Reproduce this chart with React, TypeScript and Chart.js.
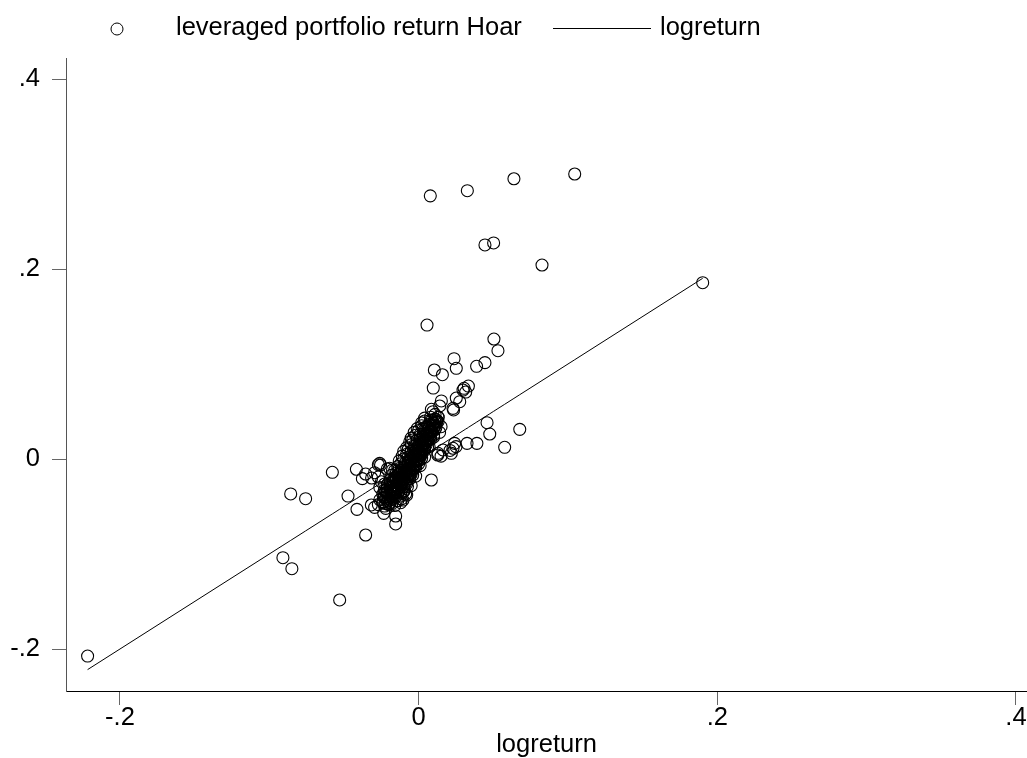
import React, { useEffect, useRef } from "react";
import { Chart, registerables } from "chart.js";

Chart.register(...registerables);

const scatterLabel = "leveraged portfolio return Hoar";
const lineLabel = "logreturn";
const axisTitleX = "logreturn";

const xTicks = [-0.2, 0, 0.2, 0.4];
const yTicks = [-0.2, 0, 0.2, 0.4];

// logreturn (x) values
const logreturn = [
  // upper outliers
  0.0078, 0.0326, 0.0638, 0.1045, 0.0444, 0.0502, 0.0826, 0.1902,
  // upper arm
  0.0056, 0.0504, 0.0531, 0.0237, 0.0252, 0.0444, 0.0388, 0.0105, 0.0159, 0.0098,
  0.0333, 0.0297, 0.0315, 0.0304, 0.0252, 0.0275, 0.0152, 0.0141, 0.0085, 0.023,
  0.0234, 0.0096, 0.013, 0.0096, 0.011, 0.008, 0.012, 0.015, 0.014,
  // right periphery
  0.0128, 0.013, 0.0163, 0.0219, 0.023, 0.0241, 0.0324, 0.039, 0.0576, 0.0476,
  0.0458, 0.0677, 0.0085, 0.015, 0.021, 0.025,
  // left periphery
  -0.0578, -0.0857, -0.0757, -0.0473, -0.0417, -0.0377, -0.0355, -0.0295, -0.0261, -0.0194,
  -0.0413, -0.0355, -0.0317, -0.0295, -0.0234, -0.0228, -0.019, -0.0154, -0.0154, -0.0234,
  -0.0221, -0.0228, -0.0105, -0.0087, -0.0149, -0.0172, -0.0909, -0.0849, -0.0529, -0.2217,
  -0.027, -0.0255, -0.021, -0.0175, -0.0315, -0.027, -0.026, -0.025,
  // dense core (a)
  -0.024, -0.023, -0.022, -0.022, -0.021, -0.021, -0.02, -0.02, -0.019, -0.019,
  -0.019, -0.018, -0.018, -0.018, -0.017, -0.017, -0.017, -0.016, -0.016, -0.016,
  -0.015, -0.015, -0.015, -0.014, -0.014, -0.014, -0.013, -0.013, -0.013, -0.012,
  -0.012, -0.012, -0.011, -0.011, -0.011, -0.01, -0.01, -0.01, -0.009, -0.009,
  -0.009, -0.008, -0.008, -0.008, -0.007, -0.007, -0.007, -0.006, -0.006, -0.006,
  -0.005, -0.005, -0.005, -0.004, -0.004, -0.004, -0.003, -0.003, -0.003, -0.002,
  -0.002, -0.002, -0.001, -0.001, -0.001, 0.0, 0.0, 0.0, 0.001, 0.001,
  0.001, 0.002, 0.002, 0.002, 0.003, 0.003, 0.003, 0.004, 0.004, 0.004,
  0.005, 0.005, 0.005, 0.006, 0.006, 0.006, 0.007, 0.007, 0.007, 0.008,
  0.008, 0.008, 0.009, 0.009, 0.01, 0.01, 0.011, 0.011, 0.012, 0.013,
  // dense core (b)
  -0.024, -0.019, -0.015, -0.022, -0.017, -0.012, -0.021, -0.016, -0.011,
  -0.019, -0.014, -0.01, -0.018, -0.013, -0.008, -0.016, -0.011, -0.007,
  -0.015, -0.01, -0.005, -0.013, -0.008, -0.003, -0.012, -0.007, -0.002,
  -0.01, -0.005, 0.0, -0.008, -0.003, 0.001, -0.007, -0.002, 0.003,
  -0.005, 0.0, 0.004, -0.004, 0.001, 0.005, -0.002, 0.003, 0.007,
  0.0, 0.004, 0.008, 0.002, 0.006, 0.01, 0.004, 0.008, 0.011,
  // dense core (c)
  -0.027, -0.022, -0.016, -0.012, -0.026, -0.02, -0.014,
  -0.024, -0.018, -0.012, -0.008, -0.023, -0.017, -0.01,
  -0.021, -0.015, -0.009, -0.005, -0.019, -0.013, -0.007,
  -0.018, -0.012, -0.006, -0.002, -0.016, -0.01, -0.004,
  -0.014, -0.009, -0.003, 0.001, -0.013, -0.007, -0.001,
  -0.011, -0.005, 0.001, 0.004, -0.01, -0.004, 0.002,
  -0.008, -0.002, 0.004, 0.007, -0.006, 0.0, 0.006,
  -0.005, 0.001, 0.007, 0.01, -0.003, 0.003, 0.009,
  -0.001, 0.005, 0.011, 0.002, 0.007, 0.012, 0.004, 0.009, 0.013,
  // dense core (d)
  -0.0205, -0.0155, -0.0115, -0.0185, -0.0135, -0.0095, -0.0165, -0.0115, -0.0075,
  -0.015, -0.01, -0.006, -0.013, -0.008, -0.004, -0.011, -0.006, -0.002,
  -0.009, -0.004, 0.0, -0.007, -0.002, 0.002, -0.005, 0.0, 0.004,
  -0.003, 0.002, 0.006, -0.001, 0.004, 0.008, 0.001, 0.006, 0.01,
  0.003, 0.008, 0.0115,
];

// leveraged portfolio return Hoar (y) values
const leveragedHoar = [
  // upper outliers
  0.277, 0.2824, 0.295, 0.3, 0.2253, 0.2274, 0.2042, 0.1856,
  // upper arm
  0.141, 0.1263, 0.114, 0.1056, 0.0955, 0.1014, 0.0976, 0.0937, 0.0887, 0.0747,
  0.0768, 0.0726, 0.0705, 0.0744, 0.0642, 0.0603, 0.0611, 0.0558, 0.0523, 0.0533,
  0.0516, 0.0498, 0.0393, 0.0376, 0.047, 0.044, 0.041, 0.034, 0.028,
  // right periphery
  0.0042, 0.006, 0.0095, 0.006, 0.0113, 0.0165, 0.0165, 0.0165, 0.0123, 0.0263,
  0.0382, 0.0312, -0.0221, 0.003, 0.009, 0.013,
  // left periphery
  -0.014, -0.0368, -0.0418, -0.039, -0.0108, -0.0207, -0.0158, -0.0144, -0.0046, -0.0098,
  -0.053, -0.08, -0.0484, -0.0509, -0.0572, -0.0495, -0.0456, -0.06, -0.0684, -0.0404,
  -0.0333, -0.0263, -0.0432, -0.0368, -0.0274, -0.0221, -0.1039, -0.1155, -0.1484, -0.2074,
  -0.006, -0.0063, -0.0105, -0.0115, -0.02, -0.019, -0.03, -0.024,
  // dense core (a)
  -0.046, -0.04, -0.052, -0.035, -0.044, -0.03, -0.048, -0.038, -0.033, -0.043,
  -0.026, -0.039, -0.029, -0.047, -0.035, -0.024, -0.041, -0.031, -0.022, -0.037,
  -0.027, -0.034, -0.019, -0.03, -0.024, -0.016, -0.027, -0.02, -0.033, -0.023,
  -0.015, -0.029, -0.019, -0.025, -0.012, -0.021, -0.016, -0.009, -0.018, -0.012,
  -0.024, -0.014, -0.007, -0.019, -0.01, -0.016, -0.004, -0.012, -0.006, 0.0,
  -0.009, -0.002, -0.014, -0.005, 0.002, -0.01, -0.001, 0.005, -0.007, 0.003,
  -0.003, 0.008, 0.006, 0.0, 0.011, 0.004, 0.009, -0.002, 0.007, 0.013,
  0.002, 0.011, 0.016, 0.005, 0.014, 0.019, 0.009, 0.017, 0.023, 0.012,
  0.021, 0.026, 0.015, 0.024, 0.03, 0.019, 0.028, 0.033, 0.022, 0.031,
  0.037, 0.025, 0.035, 0.029, 0.038, 0.032, 0.042, 0.035, 0.039, 0.044,
  // dense core (b)
  -0.045, -0.046, -0.044, -0.04, -0.041, -0.039, -0.035, -0.034, -0.036,
  -0.03, -0.031, -0.029, -0.025, -0.024, -0.026, -0.02, -0.021, -0.019,
  -0.015, -0.014, -0.016, -0.01, -0.011, -0.009, -0.005, -0.004, -0.006,
  0.0, 0.001, -0.001, 0.005, 0.004, 0.006, 0.01, 0.011, 0.009,
  0.015, 0.014, 0.016, 0.02, 0.021, 0.019, 0.025, 0.024, 0.026,
  0.03, 0.031, 0.029, 0.035, 0.034, 0.036, 0.04, 0.041, 0.039,
  // dense core (c)
  -0.048, -0.047, -0.049, -0.046, -0.043, -0.042, -0.044,
  -0.037, -0.039, -0.036, -0.038, -0.033, -0.032, -0.034,
  -0.027, -0.029, -0.026, -0.028, -0.022, -0.024, -0.021,
  -0.017, -0.019, -0.016, -0.018, -0.012, -0.014, -0.011,
  -0.008, -0.006, -0.009, -0.007, -0.002, -0.004, -0.001,
  0.003, 0.001, 0.004, 0.002, 0.008, 0.006, 0.009,
  0.012, 0.014, 0.011, 0.013, 0.018, 0.016, 0.019,
  0.022, 0.024, 0.021, 0.023, 0.028, 0.026, 0.029,
  0.032, 0.034, 0.031, 0.038, 0.036, 0.039, 0.043, 0.041, 0.044,
  // dense core (d)
  -0.041, -0.04, -0.042, -0.034, -0.035, -0.033, -0.028, -0.027, -0.029,
  -0.022, -0.023, -0.021, -0.016, -0.015, -0.017, -0.01, -0.011, -0.009,
  -0.004, -0.003, -0.005, 0.002, 0.003, 0.001, 0.008, 0.007, 0.009,
  0.014, 0.015, 0.013, 0.02, 0.019, 0.021, 0.026, 0.027, 0.025,
  0.032, 0.031, 0.033,
];

const FONT = '"Liberation Sans", Arial, Helvetica, sans-serif';
const FONT_SIZE = 25.5;

const fmtTick = (v: number) => {
  const r = Math.round(v * 10) / 10;
  if (r === 0) return "0";
  return String(r).replace("0.", ".");
};

const legendPlugin = {
  id: "stataLegend",
  afterDraw(chart: any) {
    const ctx = chart.ctx as CanvasRenderingContext2D;
    ctx.save();
    ctx.font = `${FONT_SIZE}px ${FONT}`;
    ctx.textBaseline = "middle";
    ctx.textAlign = "left";
    ctx.fillStyle = "#000";
    ctx.strokeStyle = "#000";
    ctx.lineWidth = 1;
    ctx.beginPath();
    ctx.arc(117, 29, 6, 0, Math.PI * 2);
    ctx.stroke();
    ctx.fillText(scatterLabel, 176, 28);
    ctx.beginPath();
    ctx.moveTo(553, 28.5);
    ctx.lineTo(651, 28.5);
    ctx.stroke();
    ctx.fillText(lineLabel, 660, 28);
    ctx.restore();
  },
};

export default function App() {
  const ref = useRef<HTMLCanvasElement | null>(null);

  useEffect(() => {
    if (!ref.current) return;
    const points = logreturn.map((x, i) => ({ x, y: leveragedHoar[i] }));
    const linePts = [...logreturn].sort((a, b) => a - b).map((x) => ({ x, y: x }));

    const chart = new Chart(ref.current, {
      type: "scatter",
      data: {
        datasets: [
          {
            label: scatterLabel,
            data: points,
            pointStyle: "circle",
            pointRadius: 6,
            pointHoverRadius: 6,
            borderWidth: 1.1,
            borderColor: "#000",
            backgroundColor: "rgba(0,0,0,0)",
            order: 2,
          },
          {
            type: "line",
            label: lineLabel,
            data: linePts,
            showLine: true,
            pointRadius: 0,
            borderWidth: 1,
            borderColor: "#000",
            backgroundColor: "#000",
            tension: 0,
            order: 1,
          } as any,
        ],
      },
      options: {
        responsive: false,
        animation: false,
        events: [],
        layout: { autoPadding: false, padding: { top: 58, left: 0, right: 0, bottom: 0 } },
        plugins: {
          legend: { display: false },
          tooltip: { enabled: false },
        },
        scales: {
          x: {
            type: "linear",
            min: -0.23616,
            max: 0.40738,
            afterFit: (s: any) => {
              s.height = 67;
              s.paddingLeft = 0;
              s.paddingRight = 0;
            },
            afterBuildTicks: (s: any) => {
              s.ticks = xTicks.map((v) => ({ value: v }));
            },
            grid: {
              drawOnChartArea: false,
              drawTicks: true,
              tickLength: 14,
              tickColor: "#666",
              color: "#666",
            },
            border: { display: true, color: "#000", width: 1 },
            ticks: {
              color: "#000",
              padding: 0,
              maxRotation: 0,
              font: { family: FONT, size: FONT_SIZE, lineHeight: 1 },
              callback: (v: any) => fmtTick(Number(v)),
            },
            title: {
              display: true,
              text: axisTitleX,
              color: "#000",
              font: { family: FONT, size: FONT_SIZE, lineHeight: 1 },
              padding: { top: 0, bottom: 0 },
            },
          },
          y: {
            type: "linear",
            min: -0.24421,
            max: 0.42211,
            afterFit: (s: any) => {
              s.width = 66;
              s.paddingTop = 0;
              s.paddingBottom = 0;
            },
            afterBuildTicks: (s: any) => {
              s.ticks = yTicks.map((v) => ({ value: v }));
            },
            grid: {
              drawOnChartArea: false,
              drawTicks: true,
              tickLength: 14,
              tickColor: "#666",
              color: "#666",
            },
            border: { display: true, color: "#555", width: 1 },
            ticks: {
              color: "#000",
              padding: 12,
              font: { family: FONT, size: FONT_SIZE, lineHeight: 1 },
              callback: (v: any) => fmtTick(Number(v)),
            },
          },
        },
      },
      plugins: [legendPlugin],
    });
    return () => chart.destroy();
  }, []);

  return (
    <canvas
      ref={ref}
      width={1027}
      height={758}
      style={{ position: "absolute", left: 0, top: 0, display: "block" }}
    />
  );
}
